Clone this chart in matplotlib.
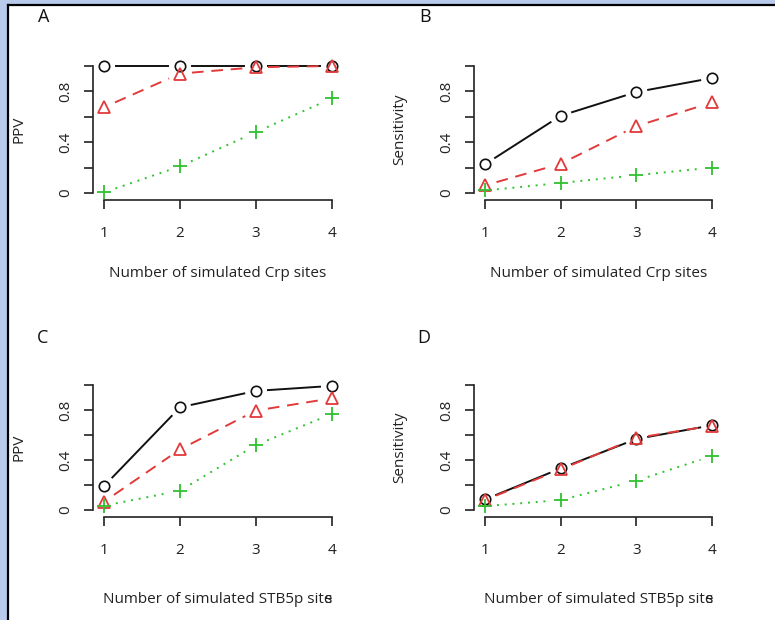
import numpy as np
import matplotlib
matplotlib.use('Agg')
from matplotlib import pyplot as plt
from matplotlib.patches import Rectangle

plt.rcParams['font.family'] = ['Open Sans', 'DejaVu Sans']

sites = [1, 2, 3, 4]

# panel A: PPV, Crp
a_black = [1.0, 1.0, 1.0, 1.0]
a_red = [0.675, 0.94, 0.99, 1.0]
a_green = [0.005, 0.21, 0.48, 0.745]
# panel B: Sensitivity, Crp
b_black = [0.226, 0.608, 0.795, 0.905]
b_red = [0.06, 0.23, 0.526, 0.713]
b_green = [0.02, 0.079, 0.14, 0.20]
# panel C: PPV, STB5p
c_black = [0.192, 0.821, 0.952, 0.992]
c_red = [0.067, 0.485, 0.795, 0.893]
c_green = [0.035, 0.155, 0.52, 0.768]
# panel D: Sensitivity, STB5p
d_black = [0.085, 0.333, 0.568, 0.677]
d_red = [0.08, 0.325, 0.576, 0.675]
d_green = [0.032, 0.08, 0.235, 0.432]

yticks = [0, 0.2, 0.4, 0.6, 0.8, 1.0]
ylabels = ['0', '', '0.4', '', '0.8', '']

W, H = 775, 620
fig = plt.figure(figsize=(W / 100, H / 100), dpi=100)
fig.patch.set_facecolor('#b9cbea')
fig.patches.append(Rectangle((7 / W, 0), 1, (H - 5) / H, transform=fig.transFigure,
                             facecolor='white', edgecolor='none', zorder=-10))
fig.lines.append(plt.Line2D([7.5 / W, 7.5 / W], [0, (H - 5) / H], transform=fig.transFigure,
                            color='black', lw=1.6, zorder=-5))
fig.lines.append(plt.Line2D([7.5 / W, 1], [(H - 5) / H, (H - 5) / H], transform=fig.transFigure,
                            color='black', lw=1.6, zorder=-5))

RED = '#e23a3a'
GREEN = '#2fc22f'
FS = 11


def px_axes(left, right, top, bottom):
    return fig.add_axes([left / W, 1 - bottom / H, (right - left) / W, (bottom - top) / H])


def gapped(ax, x, y, gap=12, **kw):
    # R type="b": lines stop short of the points
    pts = ax.transData.transform(np.column_stack([x, y]))
    inv = ax.transData.inverted()
    for p, q in zip(pts[:-1], pts[1:]):
        d = q - p
        n = np.hypot(*d)
        if n <= 2 * gap:
            continue
        u = d / n
        seg = inv.transform(np.array([p + u * gap, q - u * gap]))
        ax.plot(seg[:, 0], seg[:, 1], **kw)


def panel(ax, black, red, green, ylab, xlab, letter, lx, ly):
    ax.set_xlim(0.86, 4.14)
    ax.set_ylim(-0.055, 1.055)
    for s in ['top', 'right']:
        ax.spines[s].set_visible(False)
    ax.spines['left'].set_bounds(0, 1)
    ax.spines['bottom'].set_bounds(1, 4)
    for s in ['left', 'bottom']:
        ax.spines[s].set_color('#222222')
        ax.spines[s].set_linewidth(1.2)
    ax.set_xticks(sites)
    ax.set_yticks(yticks)
    ax.set_yticklabels(ylabels, rotation=90, va='center')
    ax.tick_params(length=6.5, width=1.2, color='#222222', labelsize=FS, labelcolor='#222222')
    ax.tick_params(axis='x', pad=12)
    ax.tick_params(axis='y', pad=8)
    ax.patch.set_alpha(0)

    gapped(ax, sites, black, color='#111111', lw=1.4)
    gapped(ax, sites, red, color=RED, lw=1.4, ls=(0, (6, 4)))
    gapped(ax, sites, green, color=GREEN, lw=1.4, ls=(0, (1, 3)))
    ax.plot(sites, black, 'o', ms=7.5, mfc='none', mec='#111111', mew=1.2)
    ax.plot(sites, red, '^', ms=8.5, mfc='none', mec=RED, mew=1.3)
    ax.plot(sites, green, '+', ms=10, mec=GREEN, mew=1.3)

    ax.set_ylabel(ylab, fontsize=FS, color='#222222')
    ax.set_xlabel(xlab, fontsize=FS, color='#222222')
    fig.text(lx / W, 1 - ly / H, letter, fontsize=13, color='#111111', ha='center', va='center')
    return ax


axA = px_axes(93.4, 342.6, 59, 200)
axB = px_axes(474.4, 722.6, 59, 200)
axC = px_axes(93.4, 342.6, 378, 517)
axD = px_axes(474.4, 722.6, 378, 517)

panel(axA, a_black, a_red, a_green, 'PPV', 'Number of simulated Crp sites', 'A', 44, 17)
panel(axB, b_black, b_red, b_green, 'Sensitivity', 'Number of simulated Crp sites', 'B', 425, 17)
panel(axC, c_black, c_red, c_green, 'PPV', 'Number of simulated STB5p site', 'C', 43, 338)
panel(axD, d_black, d_red, d_green, 'Sensitivity', 'Number of simulated STB5p site', 'D', 424, 338)

for ax in [axA, axB]:
    ax.xaxis.set_label_coords(0.5, -0.47)
for ax in [axC, axD]:
    ax.xaxis.set_label_coords(0.5, -0.54)
for ax in [axA, axB, axC, axD]:
    ax.yaxis.set_label_coords(-0.27, 0.5)

# the trailing "s" sits on top of the "e" in the lower labels
fig.canvas.draw()
r = fig.canvas.get_renderer()
for ax in [axC, axD]:
    bb = ax.xaxis.label.get_window_extent(r)
    fig.text((bb.x1 - 1) / W, (bb.y0 + bb.y1) / 2 / H, 's', fontsize=FS, color='#222222',
             ha='right', va='center')

fig.savefig('out.png', dpi=100, facecolor=fig.get_facecolor())
